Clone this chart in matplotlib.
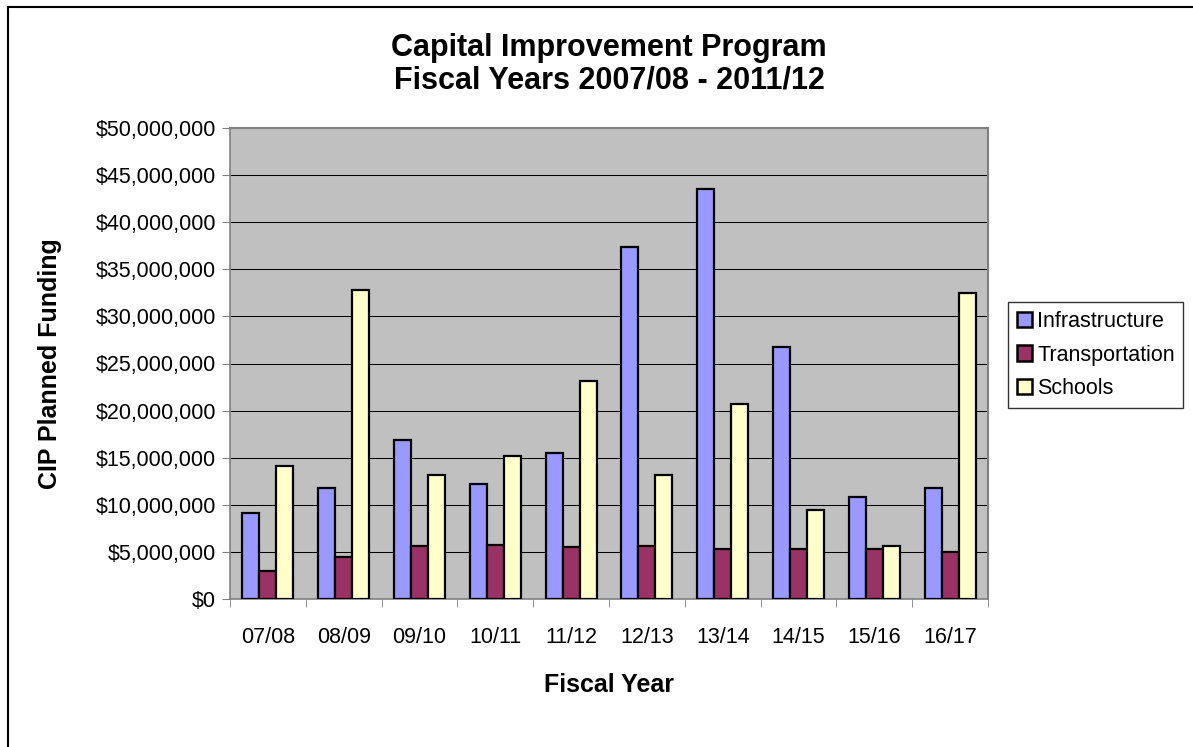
import numpy as np
import matplotlib.pyplot as plt
from matplotlib.ticker import FuncFormatter, FixedLocator
from matplotlib.lines import Line2D

plt.rcParams['font.family'] = ['Liberation Sans', 'DejaVu Sans']

years = ["07/08", "08/09", "09/10", "10/11", "11/12",
         "12/13", "13/14", "14/15", "15/16", "16/17"]
infrastructure = [9.1e6, 11.8e6, 16.9e6, 12.2e6, 15.45e6,
                  37.4e6, 43.5e6, 26.7e6, 10.85e6, 11.75e6]
transportation = [2.95e6, 4.45e6, 5.65e6, 5.75e6, 5.5e6,
                  5.65e6, 5.3e6, 5.3e6, 5.3e6, 5.0e6]
schools = [14.15e6, 32.85e6, 13.15e6, 15.2e6, 23.1e6,
           13.2e6, 20.65e6, 9.5e6, 5.6e6, 32.5e6]

series = [("Infrastructure", infrastructure, "#9999FF"),
          ("Transportation", transportation, "#993366"),
          ("Schools", schools, "#FFFFCC")]

fig = plt.figure(figsize=(11.93, 7.47), dpi=100)
ax = fig.add_axes([230 / 1193, 1 - 599 / 747, 758 / 1193, 471 / 747])
ax.set_facecolor("#C0C0C0")

x = np.arange(len(years))
w = 0.225
for i, (name, vals, col) in enumerate(series):
    ax.bar(x + (i - 1) * w, vals, width=w, color=col, edgecolor="black",
           linewidth=1.6, label=name, zorder=3)

ax.set_xlim(-0.5, len(years) - 0.5)
ax.set_ylim(0, 50e6)
ax.set_yticks(np.arange(0, 50e6 + 1, 5e6))
ax.yaxis.set_major_formatter(FuncFormatter(lambda v, p: "${:,.0f}".format(v)))
ax.grid(axis="y", color="black", linewidth=0.75, zorder=1)

ax.set_xticks(x)
ax.set_xticklabels(years)
ax.xaxis.set_minor_locator(FixedLocator(np.arange(-0.5, len(years), 1.0)))
ax.tick_params(axis="x", which="major", length=0, pad=20, labelsize=15.5)
ax.tick_params(axis="x", which="minor", length=6, color="#808080")
ax.tick_params(axis="y", length=6, color="#808080", labelsize=15.5, pad=4)

for s in ["top", "right"]:
    ax.spines[s].set_color("#808080")
    ax.spines[s].set_linewidth(1.5)
for s in ["left", "bottom"]:
    ax.spines[s].set_color("#808080")
    ax.spines[s].set_linewidth(1.2)

ax.set_xlabel("Fiscal Year", fontsize=18, fontweight="bold", labelpad=18)
ax.set_ylabel("CIP Planned Funding", fontsize=18, fontweight="bold", labelpad=24)

fig.suptitle("Capital Improvement Program\nFiscal Years 2007/08 - 2011/12",
             x=609 / 1193, y=1 - 33 / 747, fontsize=22, fontweight="bold",
             linespacing=1.1)

handles = [plt.Rectangle((0, 0), 1, 1, facecolor=c, edgecolor="black", linewidth=1.8)
           for _, _, c in series]
leg = fig.legend(handles, [n for n, _, _ in series], loc="center left",
                 bbox_to_anchor=(1008 / 1193, 1 - 355 / 747), fontsize=15.5,
                 frameon=True, fancybox=False, edgecolor="black",
                 handlelength=0.7, handleheight=0.7, handletextpad=0.25,
                 labelspacing=0.6, borderpad=0.4, borderaxespad=0)
leg.get_frame().set_linewidth(1.0)

# outer chart border (left and top edges are visible)
fig.add_artist(Line2D([8 / 1193, 8 / 1193], [0, 1 - 7 / 747], color="black", linewidth=1.5))
fig.add_artist(Line2D([8 / 1193, 1], [1 - 7 / 747, 1 - 7 / 747], color="black", linewidth=1.5))

fig.savefig("out.png", dpi=100)
